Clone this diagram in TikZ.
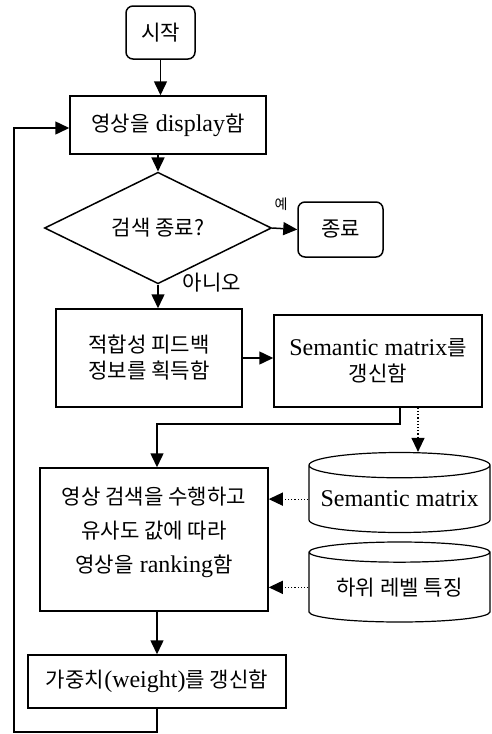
\documentclass[tikz,border=0pt]{standalone}
\usepackage{fontspec}
\setmainfont{Liberation Serif}
\newfontfamily\krfont[Scale=0.88]{Noto Sans CJK KR}
\newcommand{\ko}[1]{{\krfont #1}}
\usetikzlibrary{shapes.geometric, arrows.meta, positioning}

\begin{document}
\begin{tikzpicture}[
  x=1pt, y=-1pt,
  term/.style={rectangle, rounded corners=7pt, draw=black, line width=1.5pt},
  box/.style={rectangle, draw=black, line width=1.5pt, align=center, inner sep=2pt},
  cond/.style={diamond, draw=black, line width=1.5pt, inner sep=0pt},
  store/.style={cylinder, shape border rotate=90, draw=black, line width=1.2pt, aspect=0.16,
    minimum width=181pt, minimum height=80pt, inner sep=0pt, anchor=shape center},
  >={Triangle[length=14pt, width=13pt]}, line width=1.5pt,
  font=\fontsize{24}{26}\selectfont
]
\useasboundingbox (0,0) rectangle (491,734);

% Nodes
\node[term, minimum width=69pt, minimum height=53pt] (start) at (160.5,32.5) {\ko{시작}};
\node[box, minimum width=196pt, minimum height=58pt] (disp) at (168,125) {\ko{영상을} display\ko{함}};
\node[cond, minimum width=227pt, minimum height=74pt] (dia) at (158,228) {\ko{검색 종료?}};
\node[term, minimum width=85pt, minimum height=55pt] (stop) at (340.5,229.5) {\ko{종료}};
\node[box, minimum width=186pt, minimum height=98pt] (fb) at (149,358) {\ko{적합성 피드백}\\\ko{정보를 획득함}};
\node[box, minimum width=208pt, minimum height=92pt] (upd) at (378,361) {Semantic matrix\ko{를}\\\ko{갱신함}};
\node[box, minimum width=228pt, minimum height=143pt] (proc) at (154,539.5)
  {\ko{영상 검색을 수행하고}\\[8pt]\ko{유사도 값에 따라}\\[8pt]\ko{영상을} ranking\ko{함}\\[-6pt]\mbox{}};
\node[store] (sm) at (399.5,492.5) {Semantic matrix};
\node[store] (low) at (399.5,582) {\ko{하위 레벨 특징}};
\node[box, minimum width=258pt, minimum height=53pt] (wt) at (157,681.5) {\ko{가중치}(weight)\ko{를 갱신함}};
\node[font=\fontsize{16}{18}\selectfont] (yes) at (281,204) {\ko{예}};
\node (no) at (212,283) {\ko{아니오}};
\coordinate (back) at (14,732);

% Arrows
\draw[->] (start) -- (start |- disp.north);
\draw[->] (disp.south -| dia.north) -- (dia.north);
\draw[->] (dia.east) -- (stop.west);
\draw[->] (dia.south) -- (dia.south |- fb.north);
\draw[->] (fb.east) -- (fb.east -| upd.west);
\draw[->] ([xshift=22pt]upd.south) -- ++(0,16) -| (wt.north |- proc.north);
\draw[->, dotted, line width=1.2pt] ([xshift=40pt]upd.south) -- ([xshift=40pt]upd.south |- sm.north);
\draw[->, dotted, line width=1.2pt] (sm.west) -- (sm.west -| proc.east);
\draw[->, dotted, line width=1.2pt] (low.west) -- (low.west -| proc.east);
\draw[->] (wt.north |- proc.south) -- (wt.north);
\draw[->] (wt.south) |- (back) |- ([yshift=-3pt]disp.west);

\end{tikzpicture}
\end{document}
